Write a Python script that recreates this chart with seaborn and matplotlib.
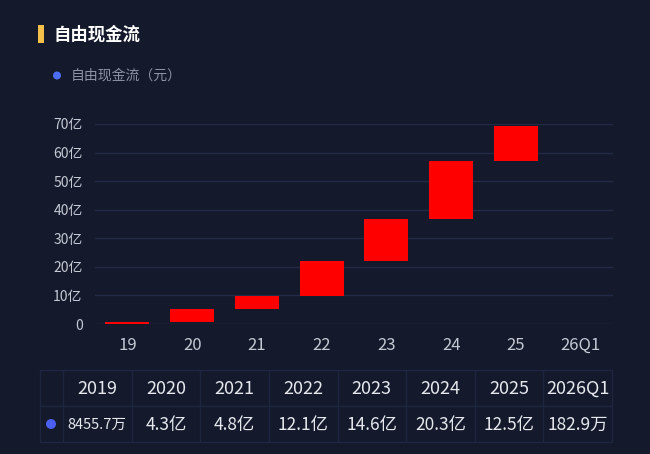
import numpy as np
import pandas as pd
import seaborn as sns
import matplotlib.pyplot as plt
from matplotlib.ticker import FuncFormatter, MultipleLocator
from matplotlib.lines import Line2D
from matplotlib.patches import Circle, Rectangle

# data (亿元)
years = ['2019', '2020', '2021', '2022', '2023', '2024', '2025', '2026Q1']
short_years = ['19', '20', '21', '22', '23', '24', '25', '26Q1']
fcf = [0.84557, 4.3, 4.8, 12.1, 14.6, 20.3, 12.5, 0.01829]
fcf_text = ['8455.7万', '4.3亿', '4.8亿', '12.1亿', '14.6亿', '20.3亿', '12.5亿', '182.9万']

bg = '#141a2c'
grid_c = '#232a45'
tick_c = '#c5c9d4'

sns.set_theme(style='dark')
plt.rcParams['font.family'] = ['Noto Sans CJK SC', 'DejaVu Sans']

df = pd.DataFrame({'year': short_years, 'fcf': fcf})
df['base'] = df['fcf'].cumsum() - df['fcf']

fig = plt.figure(figsize=(6.5, 4.54), dpi=100, facecolor=bg)
ax = fig.add_axes([95 / 650, 130 / 454, 518 / 650, 200 / 454])
ax.set_facecolor(bg)

sns.barplot(data=df, x='year', y='fcf', bottom=df['base'].to_numpy(),
            color='#ff0000', saturation=1, width=0.68, linewidth=0, ax=ax)

ax.set_xlim(-0.5, len(years) - 0.5)
ax.set_ylim(0, 70)
ax.yaxis.set_major_locator(MultipleLocator(10))
ax.yaxis.set_major_formatter(FuncFormatter(lambda v, p: '0' if v == 0 else f'{int(v)}亿'))
ax.grid(axis='y', color=grid_c, linewidth=1)
ax.grid(axis='x', visible=False)
ax.set_axisbelow(True)
for s in ax.spines.values():
    s.set_visible(False)
ax.tick_params(axis='y', length=0, pad=9, labelsize=10, labelcolor=tick_c)
ax.tick_params(axis='x', length=0, pad=9, labelsize=12, labelcolor=tick_c)
ax.set_xlabel('')
ax.set_ylabel('')

# overlay in pixel coordinates for title, legend and table
ov = fig.add_axes([0, 0, 1, 1], facecolor='none')
ov.set_xlim(0, 650)
ov.set_ylim(454, 0)
ov.axis('off')

ov.add_patch(Rectangle((38, 25), 5.5, 18, color='#f4c04a', linewidth=0))
ov.text(54, 35, '自由现金流', color='white', fontsize=12.5, fontweight='bold', va='center')
ov.add_patch(Circle((57, 75.5), 4, color='#4b6ef5', linewidth=0))
ov.text(71, 76, '自由现金流（元）', color='#8d93a3', fontsize=10, va='center')

# table
t_left, t_first, t_right = 40, 63, 612
t_top, t_mid, t_bot = 370, 406, 442
col_w = (t_right - t_first) / len(years)
line_c = '#1e253e'
for yy in [t_top, t_mid, t_bot]:
    ov.add_line(Line2D([t_left, t_right], [yy, yy], color=line_c, linewidth=1))
for i in range(len(years) + 1):
    xx = t_first + i * col_w
    ov.add_line(Line2D([xx, xx], [t_top, t_bot], color=line_c, linewidth=1))
ov.add_line(Line2D([t_left, t_left], [t_top, t_bot], color=line_c, linewidth=1))

for i, (yr, txt) in enumerate(zip(years, fcf_text)):
    cx = t_first + (i + 0.5) * col_w
    ov.text(cx, 389, yr, color='#e6e8ee', fontsize=13, ha='center', va='center')
    fs = 10.5 if len(txt) > 6 else 12.5
    ov.text(cx, 425, txt, color='#e6e8ee', fontsize=fs, ha='center', va='center')
ov.add_patch(Circle((51, 424), 5, color='#4b5ff0', linewidth=0))

fig.savefig('out.png', dpi=100, facecolor=bg)
